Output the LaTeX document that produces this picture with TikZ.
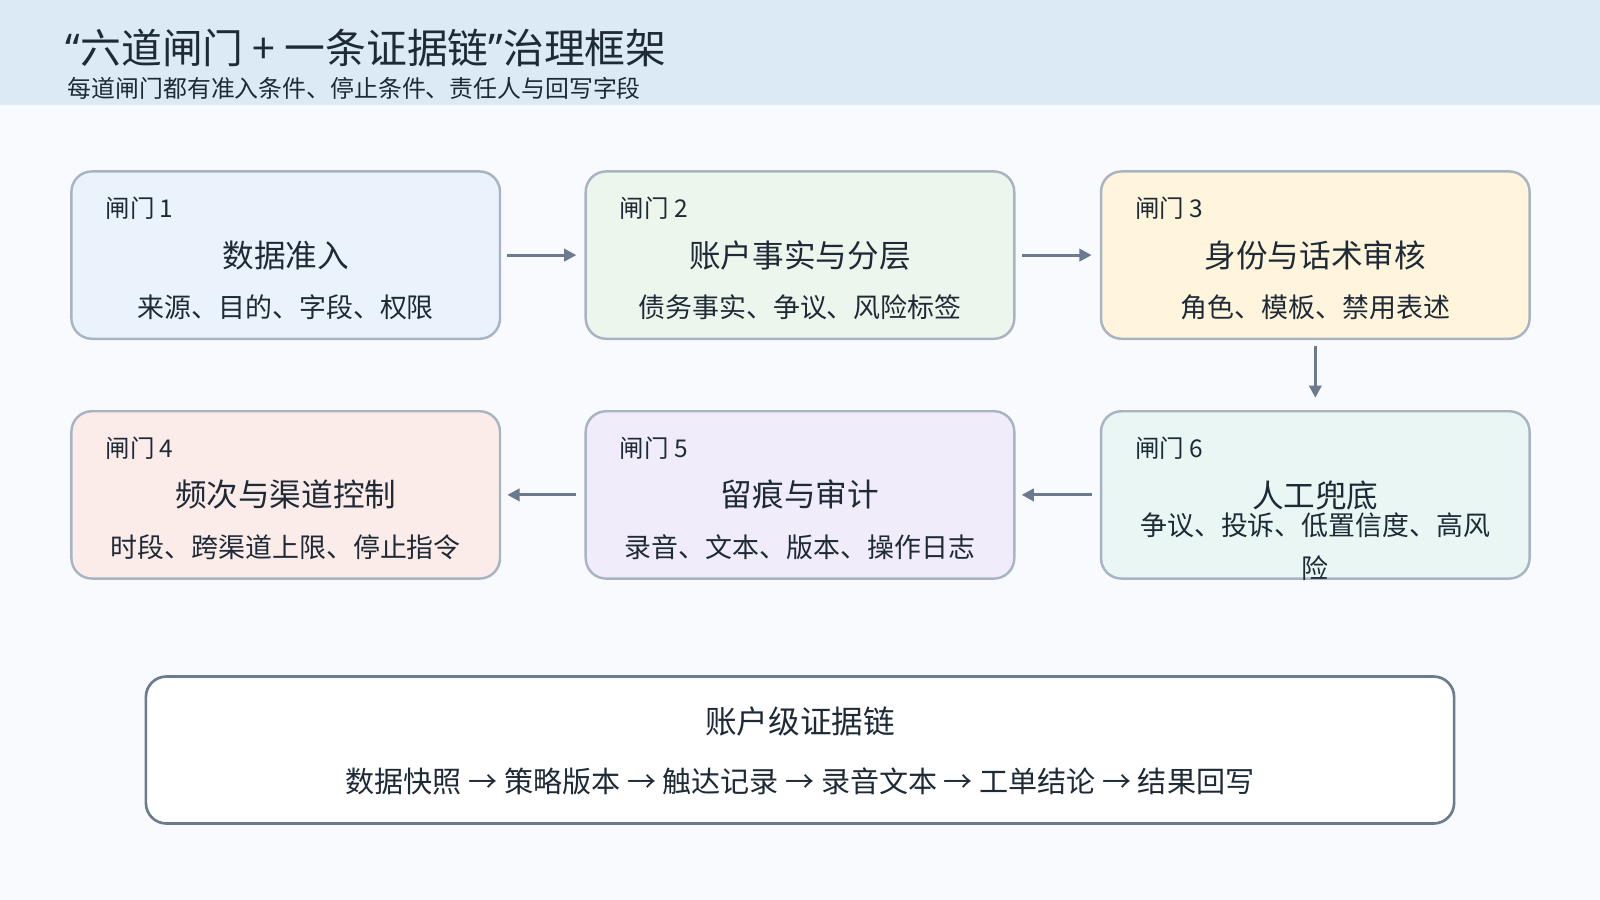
\documentclass[tikz,border=0pt]{standalone}
\usepackage{fontspec}
\setmainfont{Noto Sans CJK SC}
\newfontfamily\latq{Noto Sans}
\usetikzlibrary{arrows.meta}
\definecolor{bg}{HTML}{F8FAFD}
\definecolor{hdr}{HTML}{DCEAF6}
\definecolor{bd}{HTML}{A9B4C2}
\definecolor{ar}{HTML}{6B7A8C}
\definecolor{txt}{HTML}{1F2A37}
\definecolor{c1}{HTML}{EAF2FC}
\definecolor{c2}{HTML}{EDF6EC}
\definecolor{c3}{HTML}{FEF5DC}
\definecolor{c4}{HTML}{FBECEA}
\definecolor{c5}{HTML}{F1ECF9}
\definecolor{c6}{HTML}{E9F6F4}
\begin{document}
\begin{tikzpicture}[x=0.5pt,y=-0.5pt,
  box/.style={draw=bd,line width=1.2pt,rounded corners=10pt,minimum width=210pt,minimum height=82pt,inner sep=0pt},
  lab/.style={text=txt,font=\fontsize{12}{14}\selectfont,anchor=west},
  ttl/.style={text=txt,font=\fontsize{15.5}{18}\selectfont},
  sub/.style={text=txt,font=\fontsize{13.2}{15}\selectfont},
  arr/.style={draw=ar,line width=1.5pt,-{Triangle[length=6pt,width=6pt]}}]
\useasboundingbox (0,0) rectangle (1568,882);
\fill[bg] (0,0) rectangle (1568,882);
\fill[hdr] (0,0) rectangle (1568,103);
\node[anchor=west,text=txt,font=\fontsize{20}{24}\selectfont,inner sep=0pt] (t) at (64,47) {{\latq “}六道闸门 + 一条证据链{\latq ”}治理框架};
\node[anchor=west,text=txt,font=\fontsize{11.7}{14}\selectfont,inner sep=0pt] (st) at (66,87) {每道闸门都有准入条件、停止条件、责任人与回写字段};
\foreach \n/\x/\y/\c in {1/280/250/c1,2/784/250/c2,3/1289/250/c3,4/280/485/c4,5/784/485/c5,6/1289/485/c6}
  \node[box,fill=\c] (b\n) at (\x,\y) {};
\foreach \n/\x/\y/\T/\S in {1/280/250/数据准入/来源、目的、字段、权限,2/784/250/账户事实与分层/债务事实、争议、风险标签,3/1289/250/身份与话术审核/角色、模板、禁用表述,4/280/485/频次与渠道控制/时段、跨渠道上限、停止指令,5/784/485/留痕与审计/录音、文本、版本、操作日志}{
  \node[lab,inner sep=0pt] (l\n) at (\x-177,\y-46) {闸门 \n};
  \node[ttl] (h\n) at (\x,\y) {\T};
  \node[sub] (s\n) at (\x,\y+51) {\S};}
\node[lab,inner sep=0pt] (l6) at (1112,439) {闸门 6};
\node[ttl] (h6) at (1289,486) {人工兜底};
\node[sub,align=center,text width=360pt,font=\fontsize{13.2}{21}\selectfont] (s6) at (1289,536) {争议、投诉、低置信度、高风\\险};
\draw[arr] (b1.east)++(6,0) -- ([xshift=-4pt]b2.west);
\draw[arr] ([xshift=3pt]b2.east) -- ([xshift=-4pt]b3.west);
\draw[arr] ([yshift=-3pt]b3.south) -- ([yshift=6pt]b6.north);
\draw[arr] ([xshift=-4pt]b6.west) -- ([xshift=3pt]b5.east);
\draw[arr] ([xshift=-4pt]b5.west) -- ([xshift=3pt]b4.east);
\node[draw=ar,line width=1.3pt,fill=white,rounded corners=10pt,minimum width=641pt,minimum height=72pt] (ev) at (784,735) {};
\node[ttl] (evt) at (784,707) {账户级证据链};
\node[text=txt,font=\fontsize{14.25}{17}\selectfont] (evs) at (784,766) {数据快照 → 策略版本 → 触达记录 → 录音文本 → 工单结论 → 结果回写};
\end{tikzpicture}
\end{document}
